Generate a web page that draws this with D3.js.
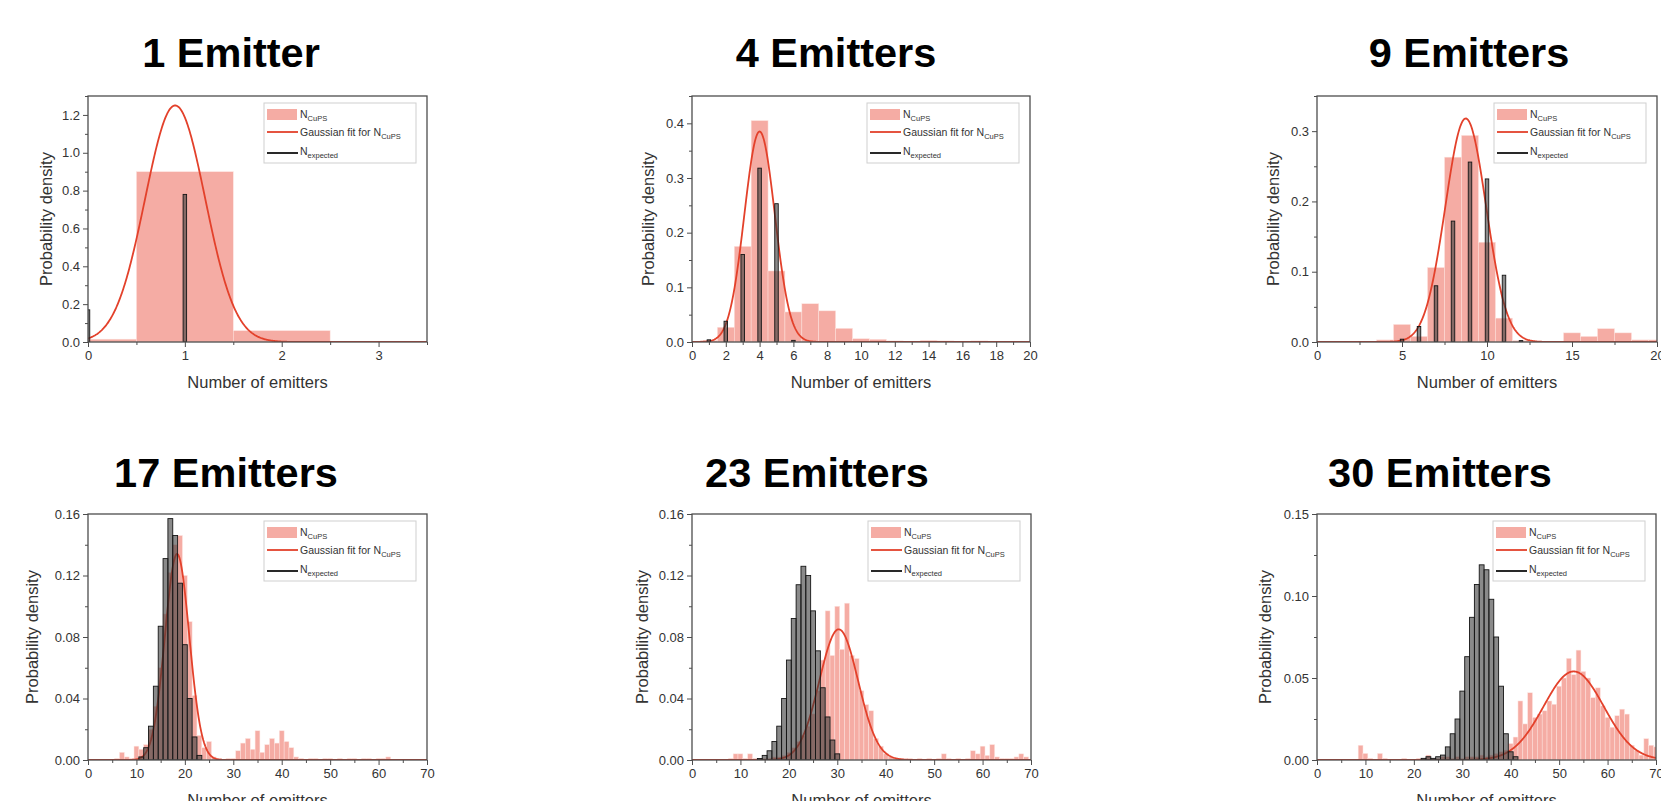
<!DOCTYPE html>
<html>
<head>
<meta charset="utf-8">
<script src="https://cdn.jsdelivr.net/npm/d3@7"></script>
<style>
  html, body { margin: 0; padding: 0; background: #fff; overflow: hidden; }
  svg { display: block; }
  text { font-family: "Liberation Sans", Arial, Helvetica, sans-serif; }
</style>
</head>
<body>
<svg id="chart" width="1661" height="801"></svg>
<script>
// ---- data ----------------------------------------------------------
const titles = ["1 Emitter", "4 Emitters", "9 Emitters", "17 Emitters", "23 Emitters", "30 Emitters"];

// axis ranges and tick steps
const xMax = [3.5, 20, 20, 70, 70, 70];
const yMax = [1.3, 0.45, 0.35, 0.16, 0.16, 0.15];
const xTickStep = [1, 2, 5, 10, 10, 10];
const yTickStep = [0.2, 0.1, 0.1, 0.04, 0.04, 0.05];
const yTickDecimals = [1, 1, 1, 2, 2, 2];

// N_CuPS histograms (bin width 1, first bin centre in cumlStart)
const cumlStart = [0, 1, 2, 6, 8, 9];
const cuml1 = [0.015, 0.9, 0.06];
const cuml2 = [0.003, 0.027, 0.175, 0.405, 0.13, 0.055, 0.07, 0.057, 0.025, 0.006,
               0.005, 0.002, 0.001, 0.003, 0.002, 0.001, 0.002];
const cuml3 = [0.001, 0.001, 0.003, 0.025, 0.008, 0.106, 0.263, 0.294, 0.142, 0.034,
               0.002, 0.001, 0.001, 0.013, 0.008, 0.019, 0.013, 0.003, 0.003];
const cuml4 = [0.001, 0.005, 0.002, 0.001, 0.009, 0.007, 0.01, 0.02, 0.035, 0.06,
               0.095, 0.122, 0.14, 0.146, 0.12, 0.09, 0.042, 0.016, 0.008, 0.012,
               0.002, 0.001, 0, 0.001, 0.001, 0.006, 0.011, 0.014, 0.007, 0.019,
               0.005, 0.01, 0.014, 0.011, 0.019, 0.012, 0.008, 0.002, 0.001, 0,
               0.001, 0.001, 0, 0.001, 0.001, 0, 0.001, 0, 0.001, 0.001,
               0, 0.001, 0.001, 0, 0.001, 0.001, 0.002];
const cuml5 = [0.001, 0.004, 0.004, 0.001, 0.004, 0.001, 0, 0.001, 0.001, 0.002,
               0.002, 0.003, 0.005, 0.008, 0.012, 0.016, 0.022, 0.03, 0.045, 0.065,
               0.097, 0.068, 0.1, 0.072, 0.102, 0.068, 0.066, 0.045, 0.036, 0.032,
               0.014, 0.009, 0.004, 0.002, 0.001, 0.001, 0, 0.001, 0, 0.001,
               0, 0.001, 0, 0.001, 0.004, 0.001, 0, 0.001, 0, 0.001,
               0.006, 0.004, 0.009, 0.003, 0.01, 0.002, 0.001, 0.001, 0.001, 0.002,
               0.004, 0.002];
const cuml6 = [0.009, 0.004, 0.001, 0, 0.004, 0.001, 0, 0, 0, 0.001,
               0, 0, 0.001, 0.001, 0.003, 0.001, 0.001, 0.002, 0.002, 0.001,
               0.002, 0.001, 0.002, 0.002, 0.002, 0.003, 0.002, 0.003, 0.004, 0.005,
               0.006, 0.01, 0.014, 0.036, 0.022, 0.041, 0.026, 0.028, 0.03, 0.036,
               0.034, 0.045, 0.05, 0.062, 0.052, 0.067, 0.054, 0.05, 0.038, 0.044,
               0.033, 0.026, 0.02, 0.027, 0.031, 0.028, 0.009, 0.006, 0.003, 0.013,
               0.009, 0.008];
const cumlSeries = [cuml1, cuml2, cuml3, cuml4, cuml5, cuml6];

// N_expected histograms
const expStart = [0, 1, 5, 11, 14, 22];
const exp1 = [0.17, 0.78];
const exp2 = [0.004, 0.038, 0.16, 0.318, 0.253, 0.003];
const exp3 = [0.004, 0.022, 0.08, 0.172, 0.256, 0.232, 0.095, 0.002];
const exp4 = [0.002, 0.008, 0.022, 0.048, 0.087, 0.131, 0.157, 0.146, 0.115, 0.075,
              0.04, 0.015, 0.003];
const exp5 = [0.001, 0.003, 0.006, 0.012, 0.022, 0.04, 0.065, 0.092, 0.114, 0.126,
              0.12, 0.097, 0.071, 0.047, 0.028, 0.013, 0.004];
const exp6 = [0.001, 0.002, 0.001, 0.002, 0.003, 0.008, 0.016, 0.025, 0.042, 0.063,
              0.087, 0.107, 0.119, 0.116, 0.098, 0.075, 0.045, 0.016, 0.005, 0.002];
const expSeries = [exp1, exp2, exp3, exp4, exp5, exp6];

// Gaussian fit parameters for N_CuPS
const fitCenter = [0.9, 4.0, 8.75, 18.4, 30.3, 53.0];
const fitSigma = [0.31, 0.9, 1.2, 2.5, 4.0, 6.2];
const fitPeak = [1.25, 0.385, 0.318, 0.134, 0.085, 0.054];

// ---- layout --------------------------------------------------------
const frames = [
  { left: 88,  right: 427,  top: 96,  bottom: 342, titleX: 231,  titleY: 67,  yTitleDx: 36 },
  { left: 692, right: 1030, top: 96,  bottom: 342, titleX: 836,  titleY: 67,  yTitleDx: 38 },
  { left: 1317, right: 1657, top: 96, bottom: 342, titleX: 1469, titleY: 67,  yTitleDx: 38 },
  { left: 88,  right: 427,  top: 514, bottom: 760, titleX: 226,  titleY: 487, yTitleDx: 50 },
  { left: 692, right: 1031, top: 514, bottom: 760, titleX: 817,  titleY: 487, yTitleDx: 44 },
  { left: 1317, right: 1656, top: 514, bottom: 760, titleX: 1440, titleY: 487, yTitleDx: 46 }
];

const COL_CUML = "rgb(240,128,115)";
const COL_FIT = "#e3412b";
const COL_AXIS = "#4d4d4d";
const COL_TEXT = "#333";

const svg = d3.select("#chart");
const defs = svg.append("defs");

titles.forEach((title, i) => {
  const L = frames[i];
  const w = L.right - L.left, h = L.bottom - L.top;
  const x = d3.scaleLinear().domain([0, xMax[i]]).range([L.left, L.right]);
  const y = d3.scaleLinear().domain([0, yMax[i]]).range([L.bottom, L.top]);
  const g = svg.append("g");

  // panel title
  g.append("text")
    .attr("x", L.titleX).attr("y", L.titleY)
    .attr("text-anchor", "middle")
    .attr("font-weight", "bold")
    .attr("font-size", 41.5)
    .attr("fill", "#000")
    .text(title);

  const clipId = "plot-clip-" + i;
  defs.append("clipPath").attr("id", clipId)
    .append("rect").attr("x", L.left).attr("y", L.top).attr("width", w).attr("height", h);
  const plot = g.append("g").attr("clip-path", `url(#${clipId})`);

  // N_CuPS histogram
  const cuml = cumlSeries[i].map((v, k) => ({ n: cumlStart[i] + k, v }));
  plot.selectAll("rect.cuml").data(cuml).join("rect")
    .attr("class", "cuml")
    .attr("x", d => x(d.n - 0.5))
    .attr("width", d => x(d.n + 0.5) - x(d.n - 0.5))
    .attr("y", d => y(d.v))
    .attr("height", d => y(0) - y(d.v))
    .attr("fill", COL_CUML)
    .attr("fill-opacity", 0.65)
    .attr("stroke", "#fde6e2")
    .attr("stroke-width", 0.5);

  // Gaussian fit curve
  const step = xMax[i] / 500;
  const xs = d3.range(0, xMax[i] + step / 2, step);
  const gauss = v => fitPeak[i] * Math.exp(-((v - fitCenter[i]) ** 2) / (2 * fitSigma[i] ** 2));
  plot.append("path").datum(xs)
    .attr("d", d3.line().x(d => x(d)).y(d => y(gauss(d))))
    .attr("fill", "none")
    .attr("stroke", COL_FIT)
    .attr("stroke-width", 1.8);

  // N_expected histogram
  const unit = x(1) - x(0);
  const bw = unit < 6 ? unit : 3.5;
  const exp = expSeries[i].map((v, k) => ({ n: expStart[i] + k, v }));
  plot.selectAll("rect.exp").data(exp).join("rect")
    .attr("class", "exp")
    .attr("x", d => x(d.n) - bw / 2)
    .attr("width", bw)
    .attr("y", d => y(d.v))
    .attr("height", d => y(0) - y(d.v))
    .attr("fill", "#3c3c3c")
    .attr("fill-opacity", 0.6)
    .attr("stroke", "#151515")
    .attr("stroke-width", 0.9);

  // axes
  const xTicks = d3.range(0, xMax[i] + 1e-9, xTickStep[i]);
  const xMinor = d3.range(xTickStep[i] / 2, xMax[i] + 1e-9, xTickStep[i]);
  const yTicks = d3.range(0, yMax[i] + 1e-9, yTickStep[i]);
  const yMinor = d3.range(yTickStep[i] / 2, yMax[i] + 1e-9, yTickStep[i]);

  const xAxis = g.append("g").attr("transform", `translate(0,${L.bottom})`)
    .call(d3.axisBottom(x).tickValues(xTicks).tickSize(5).tickPadding(4)
      .tickFormat(d3.format("d")));
  const yAxis = g.append("g").attr("transform", `translate(${L.left},0)`)
    .call(d3.axisLeft(y).tickValues(yTicks).tickSize(5).tickPadding(3)
      .tickFormat(d3.format("." + yTickDecimals[i] + "f")));
  [xAxis, yAxis].forEach(a => {
    a.select(".domain").remove();
    a.selectAll(".tick line").attr("stroke", COL_AXIS).attr("stroke-width", 1);
    a.selectAll(".tick text").attr("fill", COL_TEXT).attr("font-size", 13)
      .attr("font-family", "Liberation Sans, Arial, sans-serif");
  });
  g.append("g").attr("transform", `translate(0,${L.bottom})`)
    .call(d3.axisBottom(x).tickValues(xMinor).tickSize(3).tickFormat(""))
    .call(a => a.select(".domain").remove())
    .selectAll("line").attr("stroke", COL_AXIS);
  g.append("g").attr("transform", `translate(${L.left},0)`)
    .call(d3.axisLeft(y).tickValues(yMinor).tickSize(3).tickFormat(""))
    .call(a => a.select(".domain").remove())
    .selectAll("line").attr("stroke", COL_AXIS);

  // plot frame
  g.append("rect")
    .attr("x", L.left).attr("y", L.top).attr("width", w).attr("height", h)
    .attr("fill", "none").attr("stroke", COL_AXIS).attr("stroke-width", 1.3);

  // axis titles
  g.append("text")
    .attr("x", (L.left + L.right) / 2).attr("y", L.bottom + 46)
    .attr("text-anchor", "middle").attr("font-size", 16.5).attr("fill", COL_TEXT)
    .text("Number of emitters");
  g.append("text")
    .attr("transform", `translate(${L.left - L.yTitleDx},${(L.top + L.bottom) / 2}) rotate(-90)`)
    .attr("text-anchor", "middle").attr("font-size", 16.5).attr("fill", COL_TEXT)
    .text("Probability density");

  // legend
  const lx = L.right - 163, ly = L.top + 7;
  const lg = g.append("g");
  lg.append("rect").attr("x", lx).attr("y", ly).attr("width", 152).attr("height", 60)
    .attr("fill", "#fff").attr("stroke", "#cfcfcf").attr("stroke-width", 1);
  lg.append("rect").attr("x", lx + 3).attr("y", ly + 6).attr("width", 30).attr("height", 11)
    .attr("fill", COL_CUML).attr("fill-opacity", 0.65);
  lg.append("line").attr("x1", lx + 3).attr("x2", lx + 34).attr("y1", ly + 29).attr("y2", ly + 29)
    .attr("stroke", COL_FIT).attr("stroke-width", 1.8);
  lg.append("line").attr("x1", lx + 3).attr("x2", lx + 34).attr("y1", ly + 50).attr("y2", ly + 50)
    .attr("stroke", "#111").attr("stroke-width", 1.8);

  const legendRows = [
    { y: ly + 15, main: "N", sub: "CuPS" },
    { y: ly + 33, main: "Gaussian fit for N", sub: "CuPS" },
    { y: ly + 52, main: "N", sub: "expected" }
  ];
  legendRows.forEach(r => {
    const t = lg.append("text").attr("x", lx + 36).attr("y", r.y)
      .attr("font-size", 10.5).attr("fill", COL_TEXT);
    t.append("tspan").text(r.main);
    t.append("tspan").attr("dy", 2.5).attr("font-size", 7.5).text(r.sub);
  });
});
</script>
</body>
</html>
